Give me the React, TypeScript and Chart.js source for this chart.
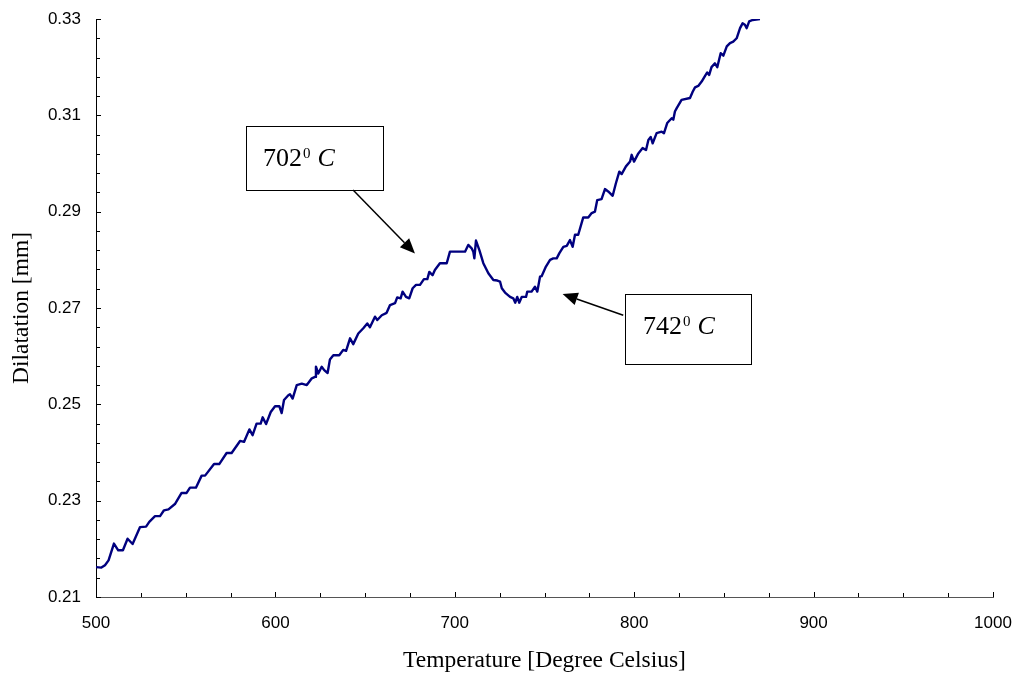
import React, { useEffect, useRef } from "react";
import { Chart, registerables } from "chart.js";

Chart.register(...registerables);

// Dilatometer trace: temperature (°C) vs. dilatation (mm)
const temperature = [
  500, 503, 505, 507, 510, 512.4, 515, 517.6, 520.4, 524.5, 527.9, 529.7, 532.9, 535.7, 537.9, 540.4,
  544, 547.7, 550.5, 552.4, 555.7, 558.9, 560.8, 565.8, 568.7, 572.8, 575.6, 580.3, 582.5, 585.5, 587.3,
  589.5, 591.8, 592.9, 594.8, 597.4, 599.8, 602.2, 603.5, 604.8, 607.2, 608.1, 609.6, 611.9, 614.7, 617.5,
  620.3, 622.1, 622.6, 623.9, 625.8, 627.2, 629.1, 630.4, 632.3, 635.6, 637.8, 639.4, 641.6, 643.4, 646.2,
  649.0, 651.2, 652.7, 655.5, 656.8, 659.3, 662.0, 663.9, 666.7, 667.9, 669.8, 670.9, 672.8, 674.6, 676.5,
  678.4, 680.6, 682.8, 684.7, 685.8, 687.6, 688.9, 691.7, 695.5, 697.3, 705.7, 707.5, 709.4, 710.3, 710.9,
  711.8, 713.7, 715.9, 718.7, 721.5, 723.7, 725.2, 726.2, 728.0, 730.8, 732.6, 733.7, 734.8, 735.9, 737.3,
  739.7, 740.4, 742.8, 744.7, 746.0, 747.5, 748.4, 750.8, 753.1, 754.9, 756.8, 758.3, 760.5, 762.4, 764.2,
  765.7, 767.0, 768.8, 771.6, 774.4, 776.3, 778.1, 779.4, 781.8, 783.7, 785.5, 788.0, 789.8, 791.7, 793.0,
  795.4, 797.7, 798.6, 799.9, 802.3, 804.7, 806.6, 807.9, 809.2, 810.3, 812.5, 815.3, 816.6, 818.4, 820.9,
  821.8, 822.7, 823.7, 826.4, 831.1, 832.6, 833.9, 835.7, 837.6, 839.5, 840.7, 841.8, 843.1, 845.0, 846.3,
  848.2, 849.7, 851.6, 853.4, 855.2, 857.1, 859.0, 860.4, 861.7, 862.7, 864.1, 866.0, 870.1,
];

const dilatation = [
  0.2162, 0.2161, 0.2166, 0.2176, 0.2211, 0.2197, 0.2197, 0.2221, 0.2210, 0.2245, 0.2246, 0.2256, 0.2268,
  0.2268, 0.2280, 0.2282, 0.2293, 0.2316, 0.2316, 0.2327, 0.2327, 0.2352, 0.2352, 0.2376, 0.2376, 0.2399,
  0.2399, 0.2424, 0.2422, 0.2448, 0.2436, 0.2460, 0.2460, 0.2473, 0.2459, 0.2484, 0.2496, 0.2496, 0.2482,
  0.2509, 0.2519, 0.2521, 0.2512, 0.2540, 0.2543, 0.2540, 0.2554, 0.2557, 0.2578, 0.2564, 0.2578, 0.2571,
  0.2565, 0.2593, 0.2602, 0.2602, 0.2613, 0.2611, 0.2637, 0.2625, 0.2647, 0.2658, 0.2668, 0.2660, 0.2682,
  0.2675, 0.2685, 0.2690, 0.2706, 0.2710, 0.2722, 0.2720, 0.2734, 0.2723, 0.2720, 0.2741, 0.2748, 0.2748,
  0.2760, 0.2760, 0.2775, 0.2768, 0.2779, 0.2793, 0.2793, 0.2817, 0.2817, 0.2831, 0.2824, 0.2817, 0.2803,
  0.2840, 0.2820, 0.2793, 0.2772, 0.2758, 0.2757, 0.2755, 0.2741, 0.2732, 0.2723, 0.2720, 0.2711, 0.2723,
  0.2711, 0.2723, 0.2723, 0.2734, 0.2734, 0.2744, 0.2734, 0.2765, 0.2766, 0.2786, 0.2800, 0.2803, 0.2803,
  0.2814, 0.2827, 0.2829, 0.2841, 0.2827, 0.2852, 0.2852, 0.2888, 0.2888, 0.2897, 0.2900, 0.2924, 0.2926,
  0.2947, 0.2942, 0.2933, 0.2959, 0.2983, 0.2978, 0.2994, 0.3004, 0.3018, 0.3004, 0.3021, 0.3032, 0.3028,
  0.3049, 0.3055, 0.3042, 0.3063, 0.3066, 0.3063, 0.3084, 0.3094, 0.3091, 0.3108, 0.3115, 0.3132, 0.3136,
  0.3149, 0.3158, 0.3161, 0.3170, 0.3182, 0.3189, 0.3184, 0.3200, 0.3208, 0.3200, 0.3229, 0.3224, 0.3243,
  0.3250, 0.3253, 0.3260, 0.3281, 0.3291, 0.3288, 0.3281, 0.3295, 0.3298, 0.3300,
];

const xTickValues = [500, 600, 700, 800, 900, 1000];
const yTickValues = [0.21, 0.23, 0.25, 0.27, 0.29, 0.31, 0.33];
const xMinorStep = 25;
const yMinorStep = 0.004;

// Transformation temperatures marked with boxed callouts (anchored in data units)
const calloutLabels = ["702", "742"];
const calloutLayout = [
  { box: [583.6, 0.3078, 660.0, 0.2945], text: [593.1, 0.2994], from: [643.3, 0.2945], to: [677.8, 0.2813] },
  { box: [794.9, 0.2729, 865.1, 0.2584], text: [804.9, 0.2647], from: [793.9, 0.2685], to: [760.1, 0.2729] },
];

const SERIF = '"Liberation Serif", "Times New Roman", serif';
const SANS = '"Liberation Sans", Arial, sans-serif';

const axisDecorations = {
  id: "axisDecorations",
  afterDraw(chart: any) {
    const { ctx } = chart;
    const xs = chart.scales.x;
    const ys = chart.scales.y;
    const area = chart.chartArea;
    ctx.save();

    // inward tick marks, major and minor
    ctx.lineWidth = 1;
    ctx.strokeStyle = "#000";
    const yCount = Math.round((ys.max - ys.min) / yMinorStep);
    for (let i = 0; i <= yCount; i++) {
      const py = Math.round(ys.getPixelForValue(ys.min + i * yMinorStep)) + 0.5;
      const len = i % 5 === 0 ? 5 : 4;
      ctx.beginPath();
      ctx.moveTo(area.left, py);
      ctx.lineTo(area.left + len, py);
      ctx.stroke();
    }
    const xCount = Math.round((xs.max - xs.min) / xMinorStep);
    for (let i = 0; i <= xCount; i++) {
      const px = Math.round(xs.getPixelForValue(xs.min + i * xMinorStep)) + 0.5;
      const len = i % 4 === 0 ? 5 : 4;
      ctx.beginPath();
      ctx.moveTo(px, area.bottom);
      ctx.lineTo(px, area.bottom - len);
      ctx.stroke();
    }

    // callouts
    calloutLayout.forEach((c, idx) => {
      const bx1 = Math.round(xs.getPixelForValue(c.box[0])) + 0.5;
      const by1 = Math.round(ys.getPixelForValue(c.box[1])) + 0.5;
      const bx2 = Math.round(xs.getPixelForValue(c.box[2])) + 0.5;
      const by2 = Math.round(ys.getPixelForValue(c.box[3])) + 0.5;
      ctx.fillStyle = "#fff";
      ctx.fillRect(bx1, by1, bx2 - bx1, by2 - by1);
      ctx.strokeStyle = "#000";
      ctx.lineWidth = 1;
      ctx.strokeRect(bx1, by1, bx2 - bx1, by2 - by1);

      const tx = xs.getPixelForValue(c.text[0]);
      const ty = ys.getPixelForValue(c.text[1]);
      ctx.fillStyle = "#000";
      ctx.textBaseline = "alphabetic";
      ctx.textAlign = "left";
      ctx.font = `26px ${SERIF}`;
      const label = calloutLabels[idx];
      ctx.fillText(label, tx, ty);
      const w = ctx.measureText(label).width;
      ctx.font = `15px ${SERIF}`;
      ctx.fillText("0", tx + w + 1, ty - 8);
      const sw = ctx.measureText("0").width;
      ctx.font = `italic 26px ${SERIF}`;
      ctx.fillText("C", tx + w + sw + 8, ty);

      // arrow
      const fx = xs.getPixelForValue(c.from[0]);
      const fy = ys.getPixelForValue(c.from[1]);
      const ax = xs.getPixelForValue(c.to[0]);
      const ay = ys.getPixelForValue(c.to[1]);
      const ang = Math.atan2(ay - fy, ax - fx);
      const headLen = 15;
      const headHalf = 6.5;
      const bx = ax - headLen * Math.cos(ang);
      const by = ay - headLen * Math.sin(ang);
      ctx.strokeStyle = "#000";
      ctx.lineWidth = 1.5;
      ctx.beginPath();
      ctx.moveTo(fx, fy);
      ctx.lineTo(bx, by);
      ctx.stroke();
      ctx.beginPath();
      ctx.moveTo(ax, ay);
      ctx.lineTo(bx + headHalf * Math.sin(ang), by - headHalf * Math.cos(ang));
      ctx.lineTo(bx - headHalf * Math.sin(ang), by + headHalf * Math.cos(ang));
      ctx.closePath();
      ctx.fill();
    });

    ctx.restore();
  },
};

// keep the plot box fixed: no extra room reserved for overhanging tick labels
const clearOverhang = (s: any) => {
  s.paddingTop = 0;
  s.paddingBottom = 0;
  s.paddingLeft = 0;
  s.paddingRight = 0;
};

export default function App() {
  const canvasRef = useRef<HTMLCanvasElement | null>(null);

  useEffect(() => {
    document.body.style.margin = "0";
    const canvas = canvasRef.current;
    if (!canvas) return;

    const points = temperature.map((t, i) => ({ x: t, y: dilatation[i] }));

    const chart = new Chart(canvas, {
      type: "line",
      data: {
        datasets: [
          {
            data: points,
            borderColor: "#00007f",
            borderWidth: 2.4,
            pointRadius: 0,
            tension: 0,
            fill: false,
            borderJoinStyle: "round",
          },
        ],
      },
      options: {
        animation: false,
        responsive: false,
        maintainAspectRatio: false,
        layout: { padding: { top: 19, right: 25, bottom: 0, left: 0 } },
        plugins: {
          legend: { display: false },
          tooltip: { enabled: false },
        },
        scales: {
          x: {
            type: "linear",
            min: 500,
            max: 1000,
            afterBuildTicks: (s: any) => {
              s.ticks = xTickValues.map((v) => ({ value: v }));
            },
            afterFit: (s: any) => {
              s.height = 77;
              clearOverhang(s);
            },
            grid: { display: false, drawTicks: false },
            border: { display: true, color: "#555", width: 1 },
            ticks: {
              padding: 16,
              color: "#000",
              maxRotation: 0,
              autoSkip: false,
              font: { family: SANS, size: 17 },
              callback: (v: any) => String(v),
            },
            title: {
              display: true,
              text: "Temperature [Degree Celsius]",
              color: "#000",
              font: { family: SERIF, size: 23.5 },
              padding: { top: 0, bottom: -1 },
            },
          },
          y: {
            type: "linear",
            min: 0.21,
            max: 0.33,
            afterBuildTicks: (s: any) => {
              s.ticks = yTickValues.map((v) => ({ value: v }));
            },
            afterFit: (s: any) => {
              s.width = 96;
              clearOverhang(s);
            },
            grid: { display: false, drawTicks: false },
            border: { display: true, color: "#000", width: 1 },
            ticks: {
              padding: 15,
              color: "#000",
              autoSkip: false,
              font: { family: SANS, size: 17 },
              callback: (v: any) => Number(v).toFixed(2),
            },
            title: {
              display: true,
              text: "Dilatation [mm]",
              color: "#000",
              font: { family: SERIF, size: 23.5 },
              padding: { top: 8, bottom: 0 },
            },
          },
        },
      },
      plugins: [axisDecorations],
    });

    return () => chart.destroy();
  }, []);

  return (
    <div style={{ width: 1018, height: 674, background: "#fff" }}>
      <canvas ref={canvasRef} width={1018} height={674} style={{ display: "block" }} />
    </div>
  );
}
